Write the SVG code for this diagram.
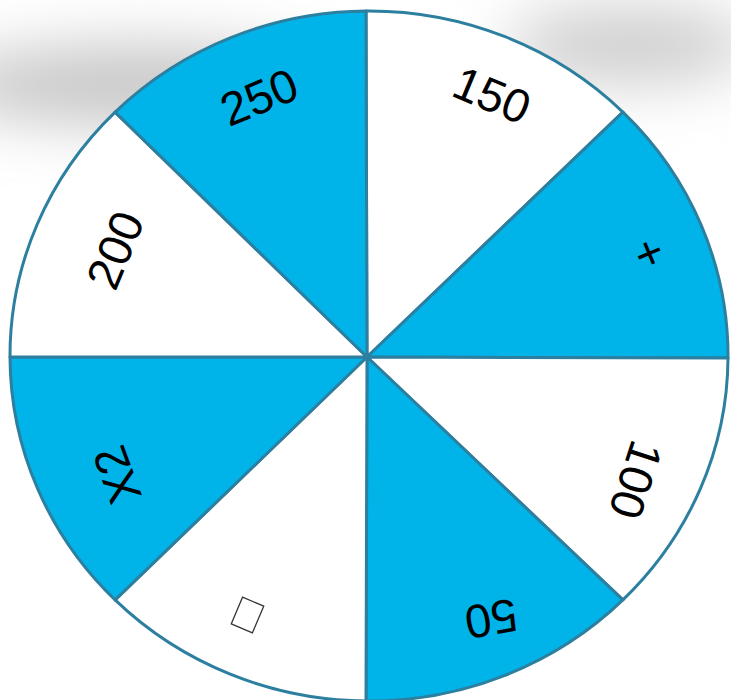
<svg xmlns="http://www.w3.org/2000/svg" width="731" height="700" viewBox="0 0 731 700">
<style>
.b{fill:#00b4e9;stroke:#2d7fa0;stroke-width:3;stroke-linejoin:round}
.w{fill:#ffffff;stroke:#2d7fa0;stroke-width:3;stroke-linejoin:round}
.t{font-family:"Liberation Sans",Arial,sans-serif;font-size:47px;fill:#000;text-anchor:middle;dominant-baseline:central}
</style>
<defs>
<filter id="blur" x="-50%" y="-80%" width="200%" height="260%"><feGaussianBlur stdDeviation="30"/></filter>
</defs>
<rect width="731" height="700" fill="#ffffff"/>
<g id="shadow" filter="url(#blur)">
<ellipse cx="140" cy="85" rx="200" ry="40" fill="#c6c6c6"/>
<ellipse cx="630" cy="45" rx="125" ry="38" fill="#cdcdcd"/>
</g>
<g id="wheel">
<path id="s150" class="w" d="M367 357 L366 11 A359 345 0 0 1 622.9 112.1 Z"/>
<path id="splus" class="b" d="M367 357 L622.9 112.1 A359 345 0 0 1 728 358 Z"/>
<path id="s100" class="w" d="M367 357 L728 358 A359 345 0 0 1 622.9 599.9 Z"/>
<path id="s50" class="b" d="M367 357 L622.9 599.9 A359 345 0 0 1 366 701 Z"/>
<path id="sbox" class="w" d="M367 357 L366 701 A359 345 0 0 1 115.1 599.9 Z"/>
<path id="sx2" class="b" d="M367 357 L115.1 599.9 A359 345 0 0 1 10 357 Z"/>
<path id="s200" class="w" d="M367 357 L10 357 A359 345 0 0 1 115.1 112.1 Z"/>
<path id="s250" class="b" d="M367 357 L115.1 112.1 A359 345 0 0 1 366 11 Z"/>
</g>
<g id="labels">
<text class="t" transform="translate(492 95) rotate(22.5)">150</text>
<text class="t" transform="translate(650 253) rotate(67.5)">+</text>
<text class="t" transform="translate(636 480) rotate(108)">100</text>
<text class="t" transform="translate(491 619) rotate(170)">50</text>
<rect x="-11.5" y="-14.5" width="23" height="29" fill="none" stroke="#333" stroke-width="1.3" transform="translate(247.5 615) rotate(23)"/>
<text class="t" transform="translate(117 475) rotate(250)">X2</text>
<text class="t" transform="translate(115 250) rotate(-67.5)">200</text>
<text class="t" transform="translate(259 97) rotate(-22.5)">250</text>
</g>
</svg>
